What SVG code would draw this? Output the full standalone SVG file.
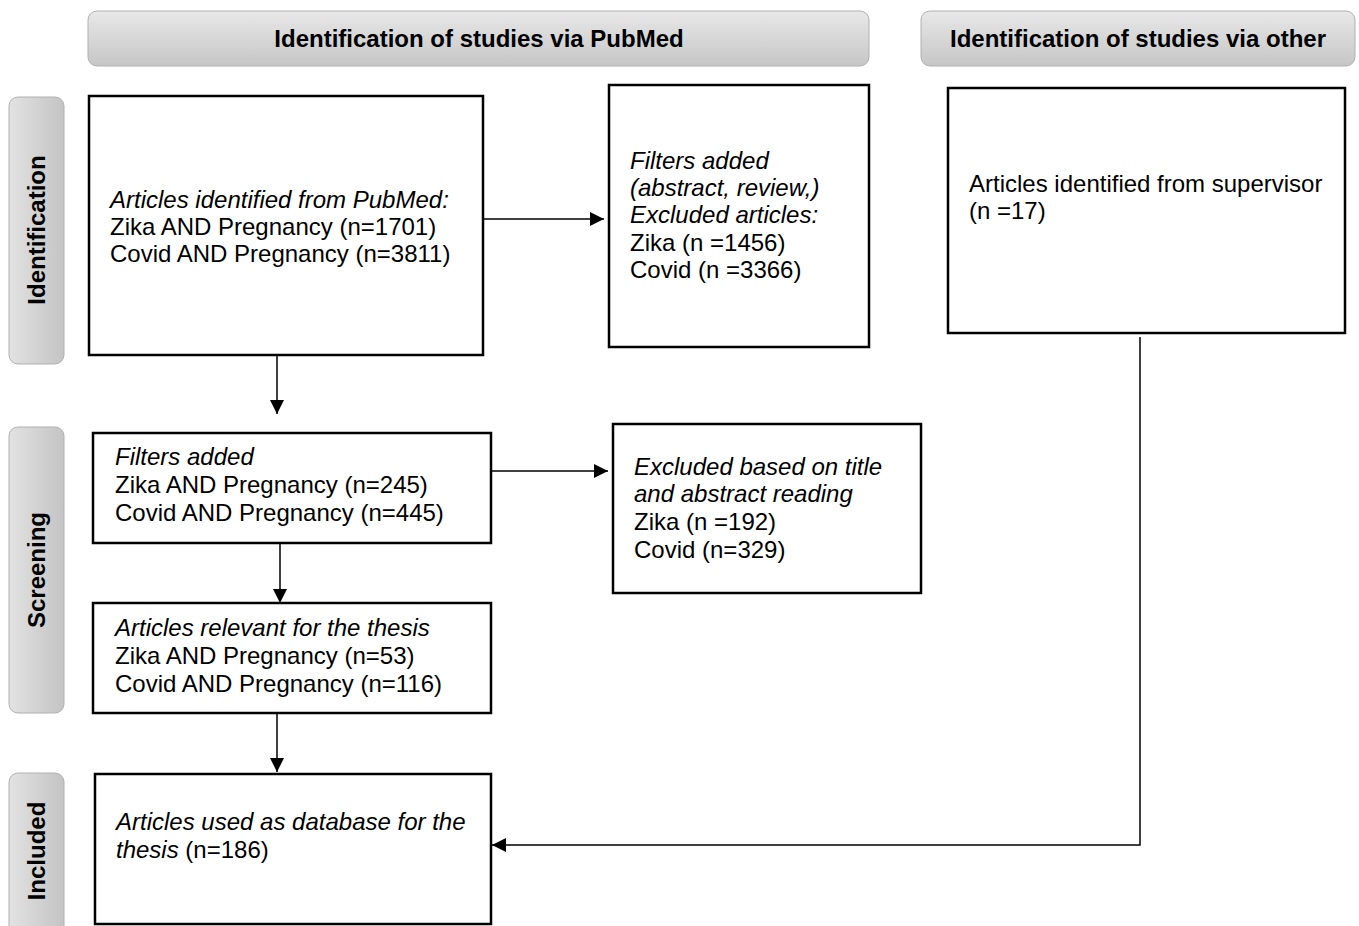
<svg xmlns="http://www.w3.org/2000/svg" width="1359" height="926" viewBox="0 0 1359 926">
<defs>
<linearGradient id="hg" x1="0" y1="0" x2="0" y2="1">
<stop offset="0" stop-color="#e8e8e8"/>
<stop offset="1" stop-color="#c6c6c6"/>
</linearGradient>
<linearGradient id="sg" x1="0" y1="0" x2="1" y2="0">
<stop offset="0" stop-color="#e2e2e2"/>
<stop offset="1" stop-color="#c4c4c4"/>
</linearGradient>
<marker id="ahb" viewBox="0 0 10 10" refX="10" refY="5" markerWidth="15" markerHeight="14" markerUnits="userSpaceOnUse" orient="auto">
<path d="M0,0 L10,5 L0,10 Z" fill="#000"/>
</marker>
</defs>
<style>
.hdr{fill:url(#hg);stroke:#b0b0b0;stroke-width:1}
.side{fill:url(#sg);stroke:#b0b0b0;stroke-width:1}
.ht{font-family:"Liberation Sans",Arial,sans-serif;font-weight:bold;font-size:24px;fill:#000;text-anchor:middle}
.box{fill:#fff;stroke:#000;stroke-width:2.5}
.t{font-family:"Liberation Sans",Arial,sans-serif;font-size:24px;fill:#000}
.i{font-style:italic}
.c{fill:none;stroke:#000;stroke-width:1.5}
</style>
<rect width="1359" height="926" fill="#fff"/>
<g id="header-pubmed"><rect class="hdr" x="88" y="11" width="781" height="55" rx="9"/><text class="ht" x="479" y="47">Identification of studies via PubMed</text></g>
<g id="header-other"><rect class="hdr" x="921" y="11" width="434" height="55" rx="9"/><text class="ht" x="1138" y="47">Identification of studies via other</text></g>
<g id="side-identification"><rect class="side" x="9" y="97" width="55" height="267" rx="9"/><text class="ht" transform="translate(45,230) rotate(-90)">Identification</text></g>
<g id="side-screening"><rect class="side" x="9" y="427" width="55" height="286" rx="9"/><text class="ht" transform="translate(45,570) rotate(-90)">Screening</text></g>
<g id="side-included"><rect class="side" x="9" y="773" width="55" height="170" rx="9"/><text class="ht" transform="translate(45,851) rotate(-90)">Included</text></g>
<g id="box-pubmed"><rect class="box" x="89" y="96" width="394" height="259"/>
<text class="t" x="110" y="208"><tspan class="i">Articles identified from PubMed:</tspan><tspan x="110" y="235">Zika AND Pregnancy (n=1701)</tspan><tspan x="110" y="262">Covid AND Pregnancy (n=3811)</tspan></text></g>
<g id="box-excluded1"><rect class="box" x="609" y="85" width="260" height="262"/>
<text class="t" x="630" y="169"><tspan class="i">Filters added</tspan><tspan class="i" x="630" y="196">(abstract, review,)</tspan><tspan class="i" x="630" y="223">Excluded articles:</tspan><tspan x="630" y="251">Zika (n =1456)</tspan><tspan x="630" y="278">Covid (n =3366)</tspan></text></g>
<g id="box-supervisor"><rect class="box" x="948" y="88" width="397" height="245"/>
<text class="t" x="969" y="192">Articles identified from supervisor<tspan x="969" y="219">(n =17)</tspan></text></g>
<g id="box-filters"><rect class="box" x="93" y="433" width="398" height="110"/>
<text class="t" x="115" y="465"><tspan class="i">Filters added</tspan><tspan x="115" y="493">Zika AND Pregnancy (n=245)</tspan><tspan x="115" y="521">Covid AND Pregnancy (n=445)</tspan></text></g>
<g id="box-excluded2"><rect class="box" x="613" y="424" width="308" height="169"/>
<text class="t" x="634" y="475"><tspan class="i">Excluded based on title</tspan><tspan class="i" x="634" y="502">and abstract reading</tspan><tspan x="634" y="530">Zika (n =192)</tspan><tspan x="634" y="558">Covid (n=329)</tspan></text></g>
<g id="box-relevant"><rect class="box" x="93" y="603" width="398" height="110"/>
<text class="t" x="115" y="636"><tspan class="i">Articles relevant for the thesis</tspan><tspan x="115" y="664">Zika AND Pregnancy (n=53)</tspan><tspan x="115" y="692">Covid AND Pregnancy (n=116)</tspan></text></g>
<g id="box-included"><rect class="box" x="95" y="774" width="396" height="150"/>
<text class="t" x="116" y="830"><tspan class="i">Articles used as database for the</tspan><tspan class="i" x="116" y="858">thesis</tspan> (n=186)</text></g>
<g id="connectors">
<line class="c" x1="483" y1="219" x2="604" y2="219" marker-end="url(#ahb)"/>
<line class="c" x1="277" y1="355" x2="277" y2="414" marker-end="url(#ahb)"/>
<line class="c" x1="491" y1="471" x2="608" y2="471" marker-end="url(#ahb)"/>
<line class="c" x1="280" y1="543" x2="280" y2="603" marker-end="url(#ahb)"/>
<line class="c" x1="277" y1="713" x2="277" y2="772" marker-end="url(#ahb)"/>
<path class="c" d="M1140,337 L1140,845 L492,845" marker-end="url(#ahb)"/>
</g>
</svg>
